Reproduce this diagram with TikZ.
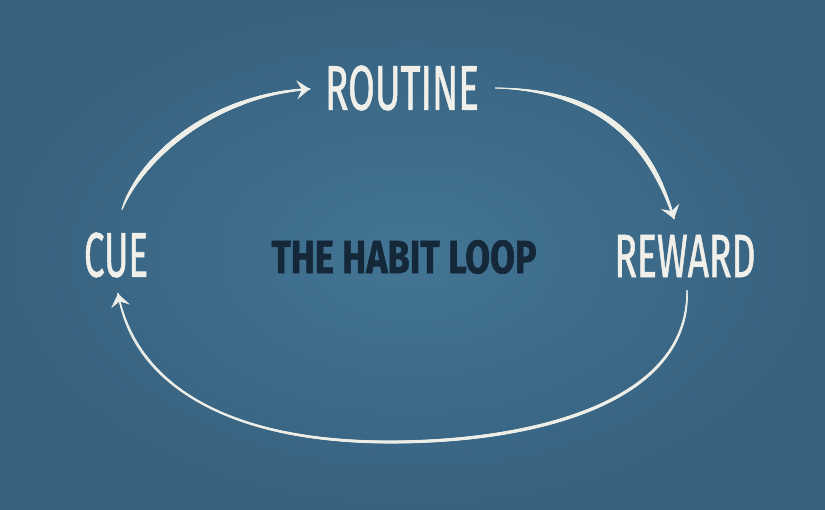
\documentclass[tikz,border=0pt]{standalone}
\usepackage{fontspec}
\usepackage{graphicx}
\setmainfont{Fira Sans}
\newfontfamily\heavyfont{Fira Sans}[FakeBold=1.5]
\newfontfamily\whitefont{Fira Sans}[FakeBold=1.3]
\usetikzlibrary{arrows.meta,decorations.markings}
\definecolor{bgin}{RGB}{67,117,148}
\definecolor{bgout}{RGB}{55,98,128}
\definecolor{txtwhite}{RGB}{240,239,233}
\definecolor{txtdark}{RGB}{20,40,58}
\definecolor{strokecol}{RGB}{238,238,232}
\tikzset{
  whitelbl/.style={inner sep=0pt, text=txtwhite, font=\whitefont},
  darklbl/.style={inner sep=0pt, text=txtdark, font=\heavyfont\bfseries},
  thinline/.style={draw=strokecol, line width=0.9pt,
    -{Stealth[length=13pt,width=19pt,inset=5pt,fill=strokecol]}},
  taper/.style n args={4}{%
    postaction={decorate},
    decoration={markings,
      mark=between positions 0 and 1 step 0.4pt with {%
        \pgfmathsetmacro\tpos{\pgfkeysvalueof{/pgf/decoration/mark info/distance from start}/\pgfdecoratedpathlength}%
        \pgfmathsetmacro\trad{0.5*(#1+(#2-#1)*\tpos+#3*sin(180*(\tpos+0.0001)^(#4)))}%
        \fill[strokecol] (0,0) circle (\trad pt);
      }}}
}
\begin{document}
\begin{tikzpicture}[x=1pt,y=-1pt]
\useasboundingbox (0,0) rectangle (825,510);
\shade[inner color=bgin,outer color=bgout] (0,0) rectangle (825,510);

\node[whitelbl] (routine) at (402,88) {\resizebox{154pt}{44pt}{ROUTINE}};
\node[whitelbl] (cue) at (116,255) {\resizebox{64pt}{44pt}{CUE}};
\node[whitelbl] (reward) at (685,256) {\resizebox{141pt}{42pt}{REWARD}};
\node[darklbl] (title) at (404,257) {\resizebox{265pt}{33pt}{THE HABIT LOOP}};

\coordinate (a1s) at ([shift={(6,-23)}]cue.north);
\coordinate (a1e) at ([shift={(-15,1)}]routine.west);
\coordinate (a2s) at ([shift={(16,0)}]routine.east);
\coordinate (a2e) at ([shift={(-11,-16)}]reward.north);
\coordinate (a3s) at ([shift={(2,13)}]reward.south);
\coordinate (a3e) at ([shift={(2,16)}]cue.south);

% CUE -> ROUTINE
\path[taper={0.8}{1.8}{4.0}{0.66}] (a1s) .. controls (140,160) and (210,95) .. (a1e);
\draw[thinline] (a1s) .. controls (140,160) and (210,95) .. (a1e);

% ROUTINE -> REWARD
\path[taper={0.8}{1.8}{4.3}{1.16}] (a2s) .. controls (600,90) and (650,140) .. (a2e);
\draw[thinline] (a2s) .. controls (600,90) and (650,140) .. (a2e);

% REWARD -> CUE
\path[taper={0.8}{1.6}{2.4}{0.5}] (a3s) .. controls (690,400) and (540,442) .. (390,442) .. controls (220,442) and (135,380) .. (a3e);
\draw[thinline] (a3s) .. controls (690,400) and (540,442) .. (390,442) .. controls (220,442) and (135,380) .. (a3e);
\end{tikzpicture}
\end{document}
